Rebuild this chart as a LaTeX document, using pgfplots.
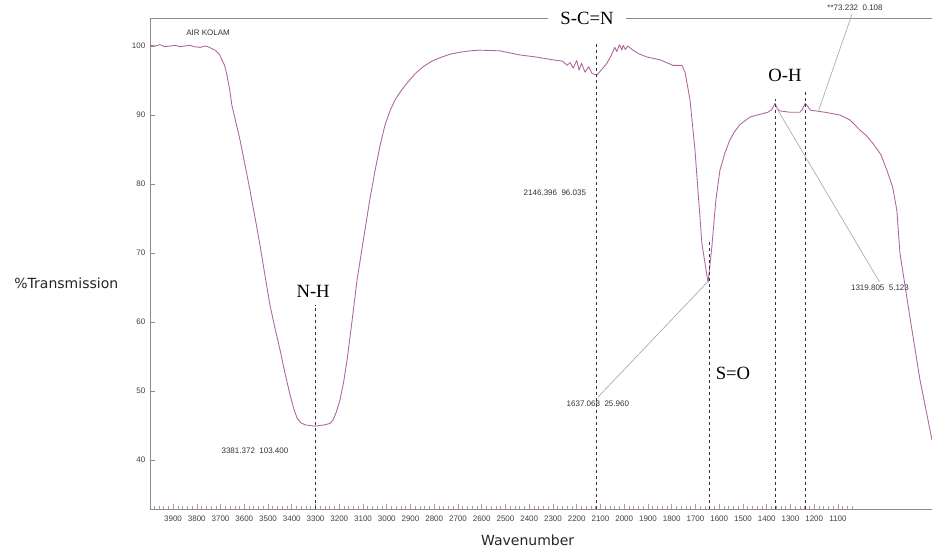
\documentclass[border=0pt]{standalone}
\usepackage{fontspec}
\setmainfont{Liberation Sans}
\newfontfamily\tnr{Liberation Serif}
\newfontfamily\dejavu{DejaVu Sans}
\usepackage{pgfplots}
\pgfplotsset{compat=1.18}
\definecolor{spec}{RGB}{175,100,158}
\definecolor{axgray}{RGB}{140,140,140}
\definecolor{tickpink}{RGB}{190,140,170}
\definecolor{leader}{RGB}{170,170,170}
\begin{document}
\begin{tikzpicture}
\useasboundingbox (0,0) rectangle (699pt,414pt);
\begin{axis}[
  at={(112.5pt,32.25pt)}, anchor=south west,
  scale only axis, width=586.5pt, height=368.25pt,
  x dir=reverse, xmin=704, xmax=3997, ymin=32.9, ymax=104.06,
  axis x line*=box, axis y line*=left,
  axis line style={axgray, line width=0.6pt},
  xtick={1100,1200,...,3900},
  minor xtick={1040,1060,...,3980},
  ytick={40,50,...,100},
  xtick pos=left, ytick pos=left,
  tick align=inside,
  major tick length=4pt, minor tick length=2.2pt,
  every tick/.style={axgray, line width=0.4pt},
  x tick style={tickpink},
  x tick label style={font=\fontsize{6}{7}\selectfont, color=black!75, yshift=-2pt},
  y tick label style={font=\fontsize{6}{7}\selectfont, color=black!75},
  /pgf/number format/assume math mode=true,
  /pgf/number format/set thousands separator={},
  xlabel={Wavenumber}, ylabel={\%Transmission},
  xlabel style={at={(axis description cs:0.483,-0.063)}, anchor=center, text=black!85, font=\dejavu\fontsize{10.5}{12}\selectfont},
  ylabel style={at={(axis description cs:-0.107,0.46)}, anchor=center, rotate=-90, text=black!85, font=\dejavu\fontsize{10.5}{12}\selectfont},
  clip=false,
]
% spectrum
\addplot[spec, line width=0.65pt, mark=none, line join=round] table {
3997 100.1
3975 100.0
3955 100.2
3935 99.9
3913 100.0
3890 100.1
3871 99.9
3850 100.0
3828 100.1
3810 99.9
3786 99.8
3765 100.0
3753 99.9
3735 99.6
3723 99.4
3705 98.8
3694 98.0
3683 97.2
3673 95.8
3662 93.8
3652 91.4
3635 88.9
3618 86.4
3597 82.8
3576 79.1
3555 75.2
3534 71.2
3513 66.8
3492 62.5
3470 59.0
3449 55.9
3428 52.5
3407 49.4
3392 47.5
3378 46.1
3362 45.4
3344 45.1
3302 44.9
3260 45.1
3240 45.3
3226 45.8
3212 47.0
3197 48.7
3182 51.2
3167 54.5
3146 60.2
3125 66.1
3092 73.3
3070 78.0
3049 82.0
3028 85.6
3007 88.6
2985 90.7
2965 92.2
2940 93.5
2915 94.6
2880 96.0
2847 97.0
2810 97.8
2776 98.3
2735 98.8
2692 99.1
2650 99.3
2607 99.4
2523 99.3
2439 98.7
2370 98.4
2300 98.0
2260 97.8
2240 97.2
2228 97.6
2215 96.8
2200 97.9
2190 96.5
2180 97.5
2165 96.2
2150 97.0
2135 96.0
2115 95.8
2095 96.6
2073 97.5
2055 98.6
2040 99.8
2031 99.2
2020 100.2
2010 99.4
2005 100.1
1995 99.5
1985 100.0
1963 99.4
1940 98.9
1904 98.4
1849 98.0
1795 97.2
1757 97.2
1744 96.2
1735 94.5
1723 92.2
1702 84.9
1673 71.4
1647 65.7
1631 70.9
1614 77.7
1597 82.0
1575 84.6
1555 86.4
1535 87.6
1513 88.6
1471 89.7
1429 90.1
1395 90.4
1378 90.8
1365 91.7
1355 90.9
1345 90.6
1302 90.4
1260 90.4
1250 90.8
1238 91.7
1226 91.2
1216 90.7
1155 90.4
1092 90.0
1050 89.3
1007 87.8
980 87.0
953 85.9
920 84.3
894 82.0
870 79.6
852 76.2
839 70.0
797 60.7
755 51.7
704 42.9
};
% dashed marker lines
\addplot[black!80, line width=0.7pt, dash pattern=on 2.5pt off 2pt] coordinates {(3300,32.9) (3300,62.5)};
\addplot[black!80, line width=0.7pt, dash pattern=on 2.5pt off 2pt] coordinates {(2115,32.9) (2115,100.6)};
\addplot[black!80, line width=0.7pt, dash pattern=on 2.5pt off 2pt] coordinates {(1643,32.9) (1643,71.9)};
\addplot[black!80, line width=0.7pt, dash pattern=on 2.5pt off 2pt] coordinates {(1365,32.9) (1365,92.3)};
\addplot[black!80, line width=0.7pt, dash pattern=on 2.5pt off 2pt] coordinates {(1238,32.9) (1238,93.3)};
% leader lines
\addplot[leader, line width=0.5pt] coordinates {(2111,49.1) (1652,65.7)};
\addplot[leader, line width=0.5pt] coordinates {(1353,90.7) (925,65.8)};
\addplot[leader, line width=0.5pt] coordinates {(1041,104.6) (1184,90.4)};
% labels
\node[anchor=west, font=\fontsize{6}{7}\selectfont, text=black!80, inner sep=0pt] at (axis cs:3845,101.9) {AIR KOLAM};
\node[font=\fontsize{6}{7}\selectfont, text=black!80, inner sep=0pt] at (axis cs:3555,41.3) {3381.372\ \ 103.400};
\node[font=\fontsize{6}{7}\selectfont, text=black!80, inner sep=0pt] at (axis cs:2292,78.7) {2146.396\ \ 96.035};
\node[font=\fontsize{6}{7}\selectfont, text=black!80, inner sep=0pt] at (axis cs:2111,48.1) {1637.068\ \ 25.960};
\node[font=\fontsize{6}{7}\selectfont, text=black!80, inner sep=0pt] at (axis cs:923,64.9) {1319.805\ \ 5.123};
\node[font=\fontsize{6}{7}\selectfont, text=black!80, inner sep=0pt] at (axis cs:1028,105.5) {**73.232\ \ 0.108};
\node[font=\tnr\fontsize{14}{16}\selectfont, inner sep=0pt] at (axis cs:3310,64.4) {N-H};
\node[font=\tnr\fontsize{14}{16}\selectfont, inner sep=0pt] at (axis cs:1542,52.6) {S=O};
\node[font=\tnr\fontsize{14}{16}\selectfont, inner sep=0pt] at (axis cs:1323,95.8) {O-H};
\end{axis}
\node[fill=white, font=\tnr\fontsize{14}{16}\selectfont, inner xsep=9.5pt, inner ysep=2pt] at (440.25pt,400.5pt) {S-C=N};
\end{tikzpicture}
\end{document}
